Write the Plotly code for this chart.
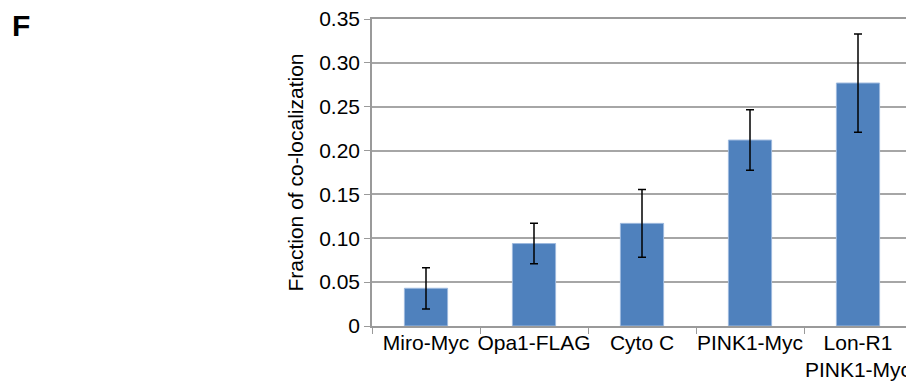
import plotly.graph_objects as go

categories = ["Miro-Myc", "Opa1-FLAG", "Cyto C", "PINK1-Myc", "Lon-R1<br>PINK1-Myc"]
values = [0.043, 0.094, 0.117, 0.212, 0.277]
errors = [0.0235, 0.023, 0.0385, 0.0345, 0.056]
ytick_vals = [0, 0.05, 0.10, 0.15, 0.20, 0.25, 0.30, 0.35]
ytick_text = ["0", "0.05", "0.10", "0.15", "0.20", "0.25", "0.30", "0.35"]

FONT = "Liberation Sans, Arial, sans-serif"

fig = go.Figure()
fig.add_trace(go.Bar(
    x=categories, y=values, width=0.4,
    marker=dict(color="#4F81BD", line=dict(color="#9DB9DE", width=1)),
    error_y=dict(type="data", array=errors, color="black", thickness=1.5, width=4),
))

fig.update_layout(
    width=906, height=373,
    margin=dict(l=364, r=2, t=11, b=55),
    plot_bgcolor="white", paper_bgcolor="white",
    showlegend=False,
    font=dict(family=FONT, size=21, color="black"),
    xaxis=dict(
        type="category", tickson="boundaries", ticks="outside", ticklen=6,
        tickcolor="#9a9a9a", showline=True, linecolor="#9a9a9a", linewidth=1.5,
        mirror=True,
        showgrid=False, tickfont=dict(size=21), tickangle=0, automargin=False,
        ticklabeloverflow="allow", ticklabelstandoff=-3,
    ),
    yaxis=dict(
        range=[0, 0.35], tickvals=ytick_vals, ticktext=ytick_text,
        ticks="outside", ticklen=6, tickcolor="#9a9a9a",
        showline=True, linecolor="#9a9a9a", linewidth=1.5,
        showgrid=True, gridcolor="#a6a6a6", gridwidth=1.5,
        zeroline=False, tickfont=dict(size=21), automargin=False,
        ticklabeloverflow="allow",
        title=dict(text="Fraction of co-localization", font=dict(size=21), standoff=10),
    ),
    annotations=[dict(
        text="<b>F</b>", xref="paper", yref="paper", x=0, y=1,
        xanchor="left", yanchor="top", xshift=-362, yshift=12,
        showarrow=False, font=dict(size=30, family=FONT, color="black"),
    )],
)

fig.write_html("out.html")
